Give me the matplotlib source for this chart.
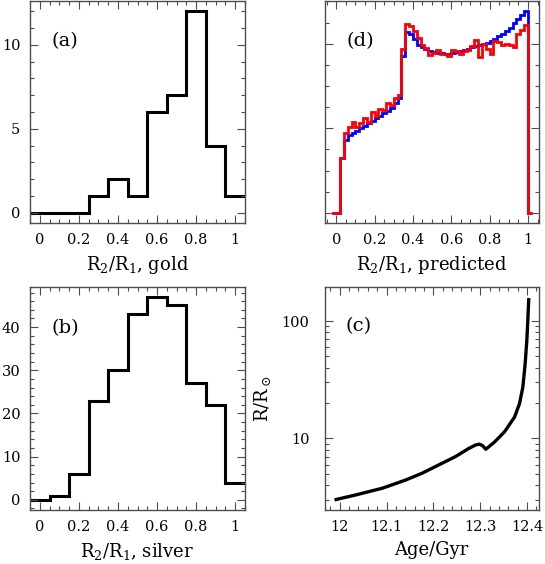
import numpy as np
import matplotlib
matplotlib.use('Agg')
import matplotlib.pyplot as plt
from matplotlib.ticker import MultipleLocator, LogLocator, NullFormatter, FixedLocator

plt.rcParams['font.family'] = ['DejaVu Serif']
plt.rcParams['mathtext.fontset'] = 'dejavuserif'

# (a) gold sample, bins of 0.1 centred on 0, 0.1, ... 1.0
ratio_centres = [0.0, 0.1, 0.2, 0.3, 0.4, 0.5, 0.6, 0.7, 0.8, 0.9, 1.0]
gold_counts = [0, 0, 0, 1, 2, 1, 6, 7, 12, 4, 1]

# (b) silver sample
silver_counts = [0, 1, 6, 23, 30, 43, 47, 45, 27, 22, 4]

# (d) predicted distributions, bins of 0.02 from -0.02 to 1.02 (arbitrary units)
pred_red = [0, 0, 0.65, 0.94, 1.01, 1.07, 1.02, 1.06, 1.12, 1.08, 1.19, 1.15,
            1.23, 1.22, 1.30, 1.27, 1.36, 1.39, 1.94, 2.23, 2.21, 2.15, 2.07,
            1.98, 1.95, 1.87, 1.89, 1.93, 1.88, 1.88, 1.86, 1.93, 1.91, 1.88,
            1.91, 1.92, 1.97, 2.04, 1.84, 2.00, 1.94, 1.88, 2.03, 2.02, 1.99,
            2.00, 1.98, 1.96, 2.12, 2.16, 2.22, 0]
pred_blue = [0, 0, 0.65, 0.86, 0.92, 0.95, 0.97, 1.00, 1.03, 1.06, 1.09, 1.12,
             1.15, 1.18, 1.21, 1.24, 1.30, 1.36, 1.86, 2.14, 2.11, 2.05, 1.99,
             1.96, 1.94, 1.91, 1.90, 1.89, 1.89, 1.88, 1.88, 1.89, 1.90, 1.91,
             1.92, 1.94, 1.96, 1.97, 1.98, 2.00, 2.01, 2.03, 2.06, 2.09, 2.12,
             2.15, 2.19, 2.24, 2.29, 2.34, 2.385, 0]

# (c) radius evolution
age = [11.989, 12.035, 12.092, 12.141, 12.176, 12.211, 12.247, 12.275, 12.290,
       12.298, 12.305, 12.312, 12.320, 12.331, 12.352, 12.3734, 12.384, 12.3911,
       12.396, 12.3996, 12.4017, 12.4038]
radius = [3.0, 3.31, 3.78, 4.43, 5.06, 5.94, 7.0, 8.2, 8.8, 8.95, 8.7, 8.1,
          8.6, 9.36, 11.4, 15.2, 19.8, 27.3, 43.0, 67.8, 100.0, 157.0]

W, H = 545, 564
fig = plt.figure(figsize=(W / 100, H / 100), dpi=100)


def box(l, t, r, b):
    return fig.add_axes([l / W, 1 - b / H, (r - l) / W, (b - t) / H])


ax_a = box(30, 1, 245, 223)
ax_d = box(324.7, 1, 538.7, 223)
ax_b = box(30, 286.7, 245, 510)
ax_c = box(324.7, 287, 538.7, 510)

frame_col = '0.3'
for ax in [ax_a, ax_b, ax_c, ax_d]:
    for s in ax.spines.values():
        s.set_color(frame_col)
        s.set_linewidth(1.0)
    ax.tick_params(which='both', direction='in', top=True, right=True,
                   color=frame_col, width=0.8, labelsize=10.5, pad=7)
    ax.tick_params(which='major', length=6)
    ax.tick_params(which='minor', length=3)

lab_kw = dict(fontsize=13)
panel_kw = dict(fontsize=14, ha='left', va='center')

# histogram edges
half = 0.05
edges = [c - half for c in ratio_centres] + [ratio_centres[-1] + half]
ratio_ticks = [0, 0.2, 0.4, 0.6, 0.8, 1.0]
ratio_labels = ['0', '0.2', '0.4', '0.6', '0.8', '1']

# (a)
ax_a.stairs(gold_counts, edges, baseline=None, color='black', linewidth=2.2)
ax_a.set_xlim(-0.05, 1.05)
ax_a.set_ylim(-0.05 * max(gold_counts), 1.05 * max(gold_counts))
ax_a.xaxis.set_minor_locator(MultipleLocator(0.05))
ax_a.yaxis.set_major_locator(MultipleLocator(5))
ax_a.yaxis.set_minor_locator(MultipleLocator(1))
ax_a.set_xticks(ratio_ticks, ratio_labels)
ax_a.set_xlabel(r'$\mathrm{R_2/R_1}$, gold', labelpad=5, **lab_kw)
ax_a.text(0.102, 0.82, '(a)', transform=ax_a.transAxes, **panel_kw)

# (b)
ax_b.stairs(silver_counts, edges, baseline=None, color='black', linewidth=2.2)
ax_b.set_xlim(-0.05, 1.05)
ax_b.set_ylim(-0.05 * max(silver_counts), 1.05 * max(silver_counts))
ax_b.xaxis.set_minor_locator(MultipleLocator(0.05))
ax_b.yaxis.set_major_locator(MultipleLocator(10))
ax_b.yaxis.set_minor_locator(MultipleLocator(2))
ax_b.set_xticks(ratio_ticks, ratio_labels)
ax_b.set_xlabel(r'$\mathrm{R_2/R_1}$, silver', labelpad=5, **lab_kw)
ax_b.text(0.102, 0.813, '(b)', transform=ax_b.transAxes, **panel_kw)

# (d)
pred_edges = np.arange(len(pred_red) + 1) * 0.02 - 0.02
ax_d.stairs(pred_blue, pred_edges, baseline=None, color='#0000ff', linewidth=2.0)
ax_d.stairs(pred_red, pred_edges, baseline=None, color='#ff0000', linewidth=2.0)
ymax = max(pred_blue)
ax_d.set_xlim(-0.06, 1.056)
ax_d.set_ylim(-0.05 * ymax, 1.05 * ymax)
ax_d.xaxis.set_minor_locator(MultipleLocator(0.05))
ax_d.yaxis.set_major_locator(MultipleLocator(1))
ax_d.yaxis.set_minor_locator(MultipleLocator(0.25))
ax_d.set_yticklabels([])
ax_d.set_xticks(ratio_ticks, ratio_labels)
ax_d.set_xlabel(r'$\mathrm{R_2/R_1}$, predicted', labelpad=5, **lab_kw)
ax_d.text(0.104, 0.82, '(d)', transform=ax_d.transAxes, **panel_kw)

# (c)
ax_c.plot(age, radius, color='black', linewidth=2.4, solid_capstyle='butt')
ax_c.set_yscale('log')
ax_c.set_xlim(11.968, 12.425)
ax_c.set_ylim(2.46, 195)
ax_c.xaxis.set_minor_locator(MultipleLocator(0.02))
ax_c.set_xticks([12.0, 12.1, 12.2, 12.3, 12.4], ['12', '12.1', '12.2', '12.3', '12.4'])
ax_c.yaxis.set_major_locator(FixedLocator([10, 100]))
ax_c.set_yticks([10, 100], ['10', '100'])
ax_c.yaxis.set_minor_locator(LogLocator(base=10, subs=np.arange(2, 10)))
ax_c.yaxis.set_minor_formatter(NullFormatter())
ax_c.tick_params(axis='y', which='both', pad=11)
ax_c.set_xlabel('Age/Gyr', labelpad=5, **lab_kw)
ax_c.set_ylabel(r'$\mathrm{R/R_\odot}$', labelpad=6, **lab_kw)
ax_c.text(0.095, 0.825, '(c)', transform=ax_c.transAxes, **panel_kw)

fig.savefig('out.png', dpi=100)
